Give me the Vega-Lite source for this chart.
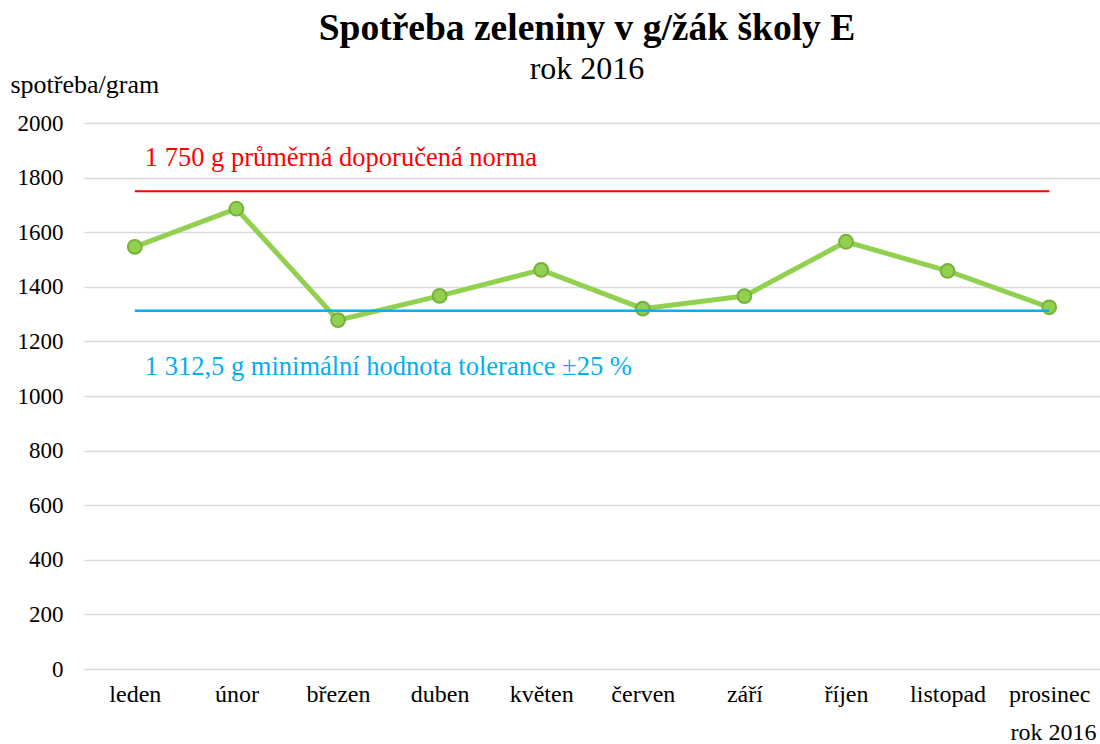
{
  "$schema": "https://vega.github.io/schema/vega-lite/v6.json",
  "autosize": "none",
  "width": 1016,
  "height": 546,
  "padding": {"left": 84, "top": 123, "right": 0, "bottom": 75},
  "background": "white",
  "config": {"view": {"stroke": null}, "font": "Liberation Serif"},
  "title": {
    "text": "Spotřeba zeleniny v g/žák školy E",
    "subtitle": "rok 2016",
    "font": "Liberation Serif",
    "fontSize": 37.5,
    "fontWeight": "bold",
    "color": "black",
    "subtitleFont": "Liberation Serif",
    "subtitleFontSize": 32,
    "subtitleColor": "black",
    "subtitlePadding": 7,
    "anchor": "middle",
    "dx": -5,
    "offset": -14
  },
  "layer": [
    {
      "data": {"values": [
        {"mesic": "leden", "g": 1546},
        {"mesic": "únor", "g": 1686},
        {"mesic": "březen", "g": 1278},
        {"mesic": "duben", "g": 1367},
        {"mesic": "květen", "g": 1462},
        {"mesic": "červen", "g": 1320},
        {"mesic": "září", "g": 1366},
        {"mesic": "říjen", "g": 1565},
        {"mesic": "listopad", "g": 1458},
        {"mesic": "prosinec", "g": 1325}
      ]},
      "mark": {"type": "line", "color": "#92d050", "strokeWidth": 5, "point": {"filled": true, "size": 190, "fill": "#92d050", "stroke": "#77b13a", "strokeWidth": 2, "opacity": 1}},
      "encoding": {
        "x": {
          "field": "mesic", "type": "nominal", "sort": null,
          "axis": {
            "title": "rok 2016", "titleFont": "Liberation Serif", "titleFontSize": 24, "titleFontWeight": "normal", "titleColor": "black",
            "titleAnchor": "end", "titleAlign": "right", "titleBaseline": "alphabetic", "titleX": 1012, "titleY": 70,
            "labelFont": "Liberation Serif", "labelFontSize": 24, "labelColor": "black", "labelAngle": 0,
            "labelPadding": 13, "domain": false, "ticks": false, "grid": false
          }
        },
        "y": {
          "field": "g", "type": "quantitative", "scale": {"domain": [0, 2000]},
          "axis": {
            "title": "spotřeba/gram", "titleFont": "Liberation Serif", "titleFontSize": 26, "titleFontWeight": "normal", "titleColor": "black",
            "titleAngle": 0, "titleAlign": "left", "titleBaseline": "alphabetic", "titleX": -74, "titleY": -31,
            "values": [0, 200, 400, 600, 800, 1000, 1200, 1400, 1600, 1800, 2000], "format": "d",
            "labelFont": "Liberation Serif", "labelFontSize": 23, "labelColor": "black", "labelPadding": 21,
            "domain": false, "ticks": false, "grid": true, "gridColor": "#d9d9d9", "gridWidth": 1.5
          }
        }
      }
    },
    {
      "data": {"values": [
        {"mesic": "leden", "g": 1750},
        {"mesic": "prosinec", "g": 1750}
      ]},
      "mark": {"type": "line", "color": "#ff0000", "strokeWidth": 2},
      "encoding": {
        "x": {"field": "mesic", "type": "nominal", "sort": null},
        "y": {"field": "g", "type": "quantitative"}
      }
    },
    {
      "data": {"values": [
        {"mesic": "leden", "g": 1312.5},
        {"mesic": "prosinec", "g": 1312.5}
      ]},
      "mark": {"type": "line", "color": "#00b0f0", "strokeWidth": 2.5},
      "encoding": {
        "x": {"field": "mesic", "type": "nominal", "sort": null},
        "y": {"field": "g", "type": "quantitative"}
      }
    },
    {
      "data": {"values": [
        {"mesic": "leden", "g": 1872, "popis": "1 750 g průměrná doporučená norma"}
      ]},
      "mark": {"type": "text", "color": "#ff0000", "align": "left", "baseline": "middle", "dx": 10, "font": "Liberation Serif", "fontSize": 26.5},
      "encoding": {
        "x": {"field": "mesic", "type": "nominal", "sort": null},
        "y": {"field": "g", "type": "quantitative"},
        "text": {"field": "popis"}
      }
    },
    {
      "data": {"values": [
        {"mesic": "leden", "g": 1106, "popis": "1 312,5 g minimální hodnota tolerance ±25 %"}
      ]},
      "mark": {"type": "text", "color": "#00b0f0", "align": "left", "baseline": "middle", "dx": 10, "font": "Liberation Serif", "fontSize": 26.5},
      "encoding": {
        "x": {"field": "mesic", "type": "nominal", "sort": null},
        "y": {"field": "g", "type": "quantitative"},
        "text": {"field": "popis"}
      }
    }
  ]
}
